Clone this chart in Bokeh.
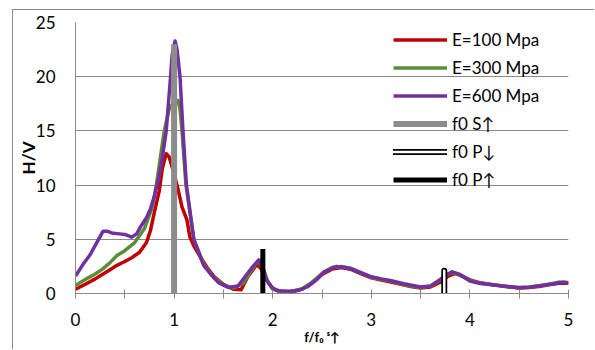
from bokeh.plotting import figure
from bokeh.models import Range1d, FixedTicker, Legend, LegendItem
from bokeh.embed import file_html
from bokeh.resources import INLINE

# ---- data ----
red_x = [0, 0.1, 0.2, 0.28, 0.35, 0.42, 0.5, 0.57, 0.65, 0.72,
         0.76, 0.8, 0.85, 0.88, 0.92, 0.95, 0.97, 1.0, 1.03, 1.08,
         1.13, 1.16, 1.2, 1.27, 1.35, 1.4, 1.5, 1.6, 1.68, 1.75,
         1.8, 1.84, 1.88, 1.94, 2.0, 2.1, 2.2, 2.3, 2.4, 2.5,
         2.6, 2.7, 2.8, 2.9, 3.0, 3.1, 3.2, 3.3, 3.4, 3.5,
         3.6, 3.7, 3.78, 3.85, 3.92, 4.0, 4.1, 4.2, 4.3, 4.4,
         4.5, 4.6, 4.7, 4.8, 4.9, 5.0]
red_y = [0.4, 0.85, 1.35, 1.8, 2.2, 2.6, 2.95, 3.3, 3.8, 4.7,
         5.8, 7.5, 9.5, 11.5, 12.9, 12.6, 12.0, 11.0, 10.0, 8.0,
         6.8, 5.2, 4.4, 3.3, 2.2, 1.6, 0.85, 0.4, 0.35, 1.6,
         2.2, 2.7, 2.3, 1.2, 0.45, 0.15, 0.15, 0.4, 1.0, 1.75,
         2.25, 2.4, 2.2, 1.8, 1.45, 1.25, 1.05, 0.85, 0.65, 0.5,
         0.6, 1.05, 1.6, 1.85, 1.6, 1.25, 1.0, 0.85, 0.72, 0.6,
         0.5, 0.55, 0.65, 0.8, 0.95, 0.95]

green_x = [0, 0.1, 0.2, 0.28, 0.35, 0.42, 0.5, 0.6, 0.7,
           0.78, 0.82, 0.86, 0.9, 0.95, 1.0, 1.04, 1.06, 1.08, 1.12,
           1.2, 1.3, 1.4, 1.5, 1.6, 1.7, 1.78, 1.85, 1.9, 1.95,
           2.0, 2.1, 2.2, 2.3, 2.4, 2.5, 2.6, 2.7, 2.8, 2.9, 3.0,
           3.1, 3.2, 3.3, 3.4, 3.5, 3.6, 3.7,
           3.76, 3.82, 3.9,
           4.0, 4.1, 4.2, 4.3, 4.4, 4.5, 4.6, 4.7, 4.8, 4.9, 5.0]
green_y = [0.75, 1.3, 1.8, 2.3, 2.85, 3.5, 3.95, 4.7, 6.0,
           8.0, 10.0, 12.5, 15.0, 17.0, 17.7, 17.8, 17.0, 15.0, 10.0,
           5.0, 2.7, 1.5, 0.8, 0.5, 0.95, 2.1, 3.0, 2.4, 1.1,
           0.4, 0.1, 0.2, 0.45, 1.05, 1.85, 2.4, 2.5, 2.3, 1.9, 1.5,
           1.3, 1.15, 0.9, 0.68, 0.55, 0.68, 1.25,
           1.7, 1.95, 1.7,
           1.2, 0.95, 0.85, 0.75, 0.62, 0.55, 0.6, 0.7, 0.85, 1.05, 1.0]

purple_x = [0, 0.07, 0.15, 0.21, 0.28, 0.32, 0.38, 0.45, 0.5, 0.57,
            0.62, 0.67, 0.72, 0.76, 0.8, 0.84, 0.88, 0.92, 0.96, 0.98,
            1.01, 1.03, 1.06, 1.09, 1.125, 1.2, 1.3, 1.37, 1.45, 1.55,
            1.65, 1.74, 1.8, 1.86, 1.9, 1.94, 2.0, 2.05, 2.18, 2.28,
            2.35, 2.45, 2.52, 2.65, 2.79, 2.9, 2.99, 3.1, 3.19, 3.33,
            3.5, 3.6, 3.7, 3.76, 3.82, 3.9, 4.0, 4.1, 4.2, 4.35,
            4.5, 4.6, 4.72, 4.85, 4.95, 5.0]
purple_y = [1.6, 2.6, 3.6, 4.6, 5.75, 5.75, 5.55, 5.5, 5.45, 5.2,
            5.5, 6.3, 7.0, 7.8, 9.0, 10.5, 12.5, 15.0, 19.5, 22.0,
            23.3, 22.5, 20.0, 15.0, 10.0, 5.0, 2.6, 1.8, 1.0, 0.55,
            0.7, 1.8, 2.5, 3.1, 2.4, 1.2, 0.5, 0.25, 0.2, 0.35,
            0.6, 1.3, 2.0, 2.5, 2.3, 1.9, 1.57, 1.35, 1.2, 0.9,
            0.6, 0.7, 1.3, 1.7, 2.0, 1.75, 1.15, 0.95, 0.83, 0.68,
            0.53, 0.58, 0.74, 0.9, 1.05, 1.0]

f0_s_up = [1.0]
f0_s_up_top = [23.0]
f0_p_down = [3.74]
f0_p_down_top = [2.1]
f0_p_up = [1.9]
f0_p_up_top = [4.1]

series_labels = ["E=100 Mpa", "E=300 Mpa", "E=600 Mpa", "f0 S↑", "f0 P↓", "f0 P↑"]
x_ticks = [0, 0.5, 1, 1.5, 2, 2.5, 3, 3.5, 4, 4.5, 5]
x_tick_labels = ["0", "", "1", "", "2", "", "3", "", "4", "", "5"]
y_ticks = [0, 5, 10, 15, 20, 25]
x_title = "f/f₀ ˢ↑"
y_title = "H/V"

FONT = "Lato"
GRID = "#898989"

p = figure(width=582, height=340, output_backend="svg", toolbar_location=None,
           x_range=Range1d(0, 5), y_range=Range1d(0, 25),
           min_border_left=62, min_border_right=27, min_border_top=12, min_border_bottom=57)
p.margin = (9, 0, 0, 12)
p.styles = {"border-left": "1px solid #898989", "border-top": "1px solid #898989"}
p.outline_line_color = None
p.background_fill_color = "white"
p.border_fill_color = "white"

p.xgrid.visible = False
p.ygrid.ticker = FixedTicker(ticks=y_ticks)
p.ygrid.grid_line_color = GRID
p.ygrid.grid_line_width = 1

p.yaxis.ticker = FixedTicker(ticks=y_ticks)
p.yaxis.axis_line_color = GRID
p.yaxis.major_tick_out = 0
p.yaxis.major_tick_in = 0
p.yaxis.minor_tick_line_color = None
p.yaxis.major_label_standoff = 20
p.yaxis.major_label_text_font = FONT
p.yaxis.major_label_text_font_size = "17px"
p.yaxis.major_label_text_color = "black"
p.yaxis.axis_label = y_title
p.yaxis.axis_label_text_font = FONT
p.yaxis.axis_label_text_font_size = "17px"
p.yaxis.axis_label_text_font_style = "bold"
p.yaxis.axis_label_text_color = "black"
p.yaxis.axis_label_standoff = -6

p.xaxis.ticker = FixedTicker(ticks=x_ticks)
p.xaxis.major_label_overrides = {t: l for t, l in zip(x_ticks, x_tick_labels)}
p.xaxis.axis_line_color = GRID
p.xaxis.major_tick_line_color = GRID
p.xaxis.major_tick_in = 4
p.xaxis.major_tick_out = 5
p.xaxis.minor_tick_line_color = None
p.xaxis.major_label_standoff = 14
p.xaxis.major_label_text_font = FONT
p.xaxis.major_label_text_font_size = "17px"
p.xaxis.major_label_text_color = "black"
p.xaxis.axis_label = x_title
p.xaxis.axis_label_text_font = FONT
p.xaxis.axis_label_text_font_size = "13px"
p.xaxis.axis_label_text_font_style = "bold"
p.xaxis.axis_label_text_color = "black"
p.xaxis.axis_label_standoff = 0

r_red = p.line(red_x, red_y, line_color="#C00000", line_width=3.5, line_join="round")
r_green = p.line(green_x, green_y, line_color="#5A8C3A", line_width=3.5, line_join="round")
r_purple = p.line(purple_x, purple_y, line_color="#7030A0", line_width=3.5, line_join="round")

zeros1 = [0]
r_s = p.segment(x0=f0_s_up, y0=zeros1, x1=f0_s_up, y1=f0_s_up_top,
                line_color="#8C8C8C", line_width=6)
r_pd_out = p.segment(x0=f0_p_down, y0=zeros1, x1=f0_p_down, y1=f0_p_down_top,
                     line_color="black", line_width=6, line_cap="round")
r_pd_in = p.segment(x0=f0_p_down, y0=zeros1, x1=f0_p_down, y1=f0_p_down_top,
                    line_color="white", line_width=2.5, line_cap="round")
r_pu = p.segment(x0=f0_p_up, y0=zeros1, x1=f0_p_up, y1=f0_p_up_top,
                 line_color="black", line_width=5)

legend = Legend(items=[
    LegendItem(label=series_labels[0], renderers=[r_red]),
    LegendItem(label=series_labels[1], renderers=[r_green]),
    LegendItem(label=series_labels[2], renderers=[r_purple]),
    LegendItem(label=series_labels[3], renderers=[r_s]),
    LegendItem(label=series_labels[4], renderers=[r_pd_out, r_pd_in]),
    LegendItem(label=series_labels[5], renderers=[r_pu]),
], location=(318, 103))
legend.label_text_font = FONT
legend.label_text_font_size = "17px"
legend.label_text_color = "black"
legend.glyph_width = 54
legend.glyph_height = 21
legend.label_height = 21
legend.spacing = 7
legend.label_standoff = 5
legend.padding = 0
legend.margin = 0
legend.background_fill_alpha = 0
legend.border_line_alpha = 0
p.add_layout(legend)

open("out.html", "w").write(file_html(p, INLINE))
